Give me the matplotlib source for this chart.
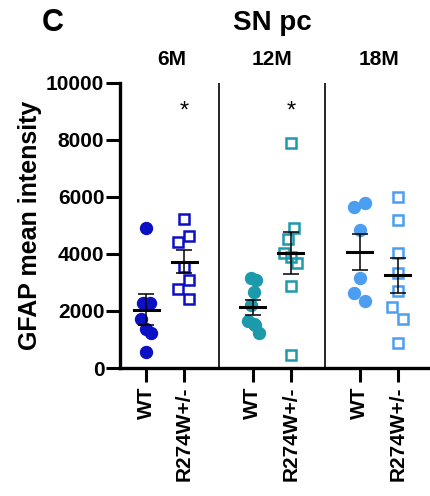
import matplotlib
matplotlib.use("Agg")
import matplotlib.pyplot as plt
import numpy as np

plt.rcParams['font.family'] = ['Liberation Sans', 'DejaVu Sans']
plt.rcParams['font.weight'] = 'bold'

# data
ages = ['6M', '12M', '18M']
genotypes = ['WT', 'R274W+/-']
colors = ['#0c10c4', '#1c9aab', '#4c9ef0']

wt_6m = [4920, 2290, 2290, 1710, 1360, 1240, 550]
mut_6m = [5240, 4640, 4410, 3560, 3090, 2770, 2410]
wt_12m = [3150, 3080, 2650, 2200, 1650, 1550, 1500, 1220]
mut_12m = [7880, 4920, 4520, 4050, 3910, 3670, 2880, 460]
wt_18m = [5780, 5660, 4840, 3150, 2620, 2360]
mut_18m = [6010, 5190, 4050, 3320, 2710, 2150, 1710, 890]

# horizontal scatter of the dots (in x units)
wt_6m_jit = [0, -0.09, 0.09, -0.13, 0, 0.14, 0]
mut_6m_jit = [0, 0.14, -0.15, 0, 0.14, -0.15, 0.14]
wt_12m_jit = [-0.05, 0.08, 0.02, -0.05, -0.12, 0.03, 0.05, 0.15]
mut_12m_jit = [0, 0.08, -0.08, -0.17, 0, 0.15, 0, 0]
wt_18m_jit = [0.15, -0.15, 0, 0, -0.15, 0.15]
mut_18m_jit = [0, 0, 0, 0, 0, -0.16, 0.15, 0]

signif = ['*', '*', '']

groups = [(wt_6m, wt_6m_jit, mut_6m, mut_6m_jit),
          (wt_12m, wt_12m_jit, mut_12m, mut_12m_jit),
          (wt_18m, wt_18m_jit, mut_18m, mut_18m_jit)]

step = 2.81

fig = plt.figure(figsize=(4.30, 4.96), dpi=100)
ax = fig.add_axes([0.278, 0.258, 0.722, 0.575])

ticks = []
ticklabels = []
for g, (wt, wtj, mut, mutj) in enumerate(groups):
    x0 = g * step
    x1 = x0 + 1
    ticks += [x0, x1]
    ticklabels += genotypes
    c = colors[g]
    ax.plot(x0 + np.array(wtj), wt, 'o', ms=8.6, color=c, mec=c, zorder=2)
    ax.plot(x1 + np.array(mutj), mut, 's', ms=7.8, mfc='none', mec=c, mew=1.8, zorder=2)
    for x, vals in [(x0, wt), (x1, mut)]:
        v = np.array(vals, dtype=float)
        m = v.mean()
        sem = v.std(ddof=1) / np.sqrt(len(v))
        ax.errorbar(x, m, yerr=sem, fmt='none', ecolor='black', elinewidth=1.1,
                    capsize=6, capthick=1.1, zorder=3)
        ax.plot([x - 0.33, x + 0.33], [m, m], color='black', lw=2.2, zorder=4)
    ax.text(x0 + 0.5 + (0.18 if g == 0 else 0), 10830, ages[g], ha='center', va='center',
            fontsize=15, fontweight='bold')
    if signif[g]:
        ax.text(x1, 9000, signif[g], ha='center', va='center', fontsize=17,
                fontweight='normal')
    if g > 0:
        ax.axvline(x0 - (step - 1) / 2, color='black', lw=1.2, zorder=1)

ax.set_xlim(-0.70, 7.47)
ax.set_ylim(0, 10000)
ax.set_yticks([0, 2000, 4000, 6000, 8000, 10000])
ax.set_xticks(ticks)
ax.set_xticklabels(ticklabels, rotation=90)
ax.tick_params(axis='y', length=10, width=2.2, pad=1, labelsize=15)
ax.tick_params(axis='x', length=10, width=2.2, pad=3, labelsize=15)
ax.spines['top'].set_visible(False)
ax.spines['right'].set_visible(False)
ax.spines['left'].set_linewidth(2.4)
ax.spines['bottom'].set_linewidth(2.4)
ax.set_ylabel('GFAP mean intensity', fontsize=18, fontweight='bold', labelpad=3)

fig.text(0.098, 0.953, 'C', fontsize=22, fontweight='bold', ha='left', va='center')
fig.text(0.633, 0.953, 'SN pc', fontsize=20, fontweight='bold', ha='center', va='center')

fig.savefig('out.png', dpi=100)
